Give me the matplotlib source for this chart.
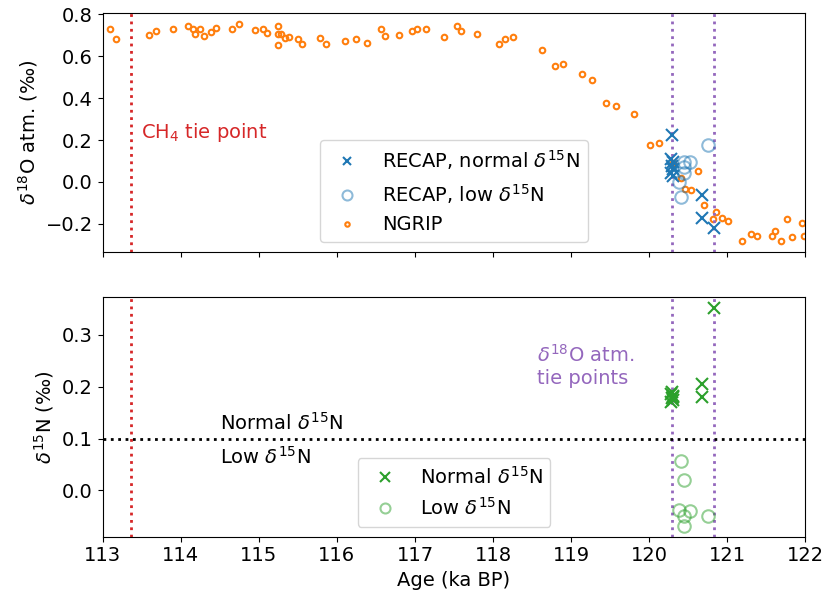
import matplotlib
matplotlib.use('Agg')
import matplotlib.pyplot as plt

# NGRIP d18O atm. record
ngrip_age = [113.09, 113.17, 113.59, 113.68, 113.90, 114.10, 114.16, 114.19, 114.25, 114.30,
             114.39, 114.45, 114.66, 114.75, 114.95, 115.05, 115.11, 115.24, 115.24, 115.24,
             115.29, 115.34, 115.39, 115.50, 115.56, 115.79, 115.86, 116.10, 116.24, 116.39,
             116.56, 116.62, 116.79, 116.96, 117.03, 117.14, 117.37, 117.54, 117.59, 117.80,
             118.08, 118.15, 118.26, 118.63, 118.79, 118.89, 119.14, 119.27, 119.45, 119.58,
             119.80, 120.01, 120.13, 120.30, 120.41, 120.46, 120.54, 120.62, 120.70, 120.82,
             120.85, 120.93, 121.01, 121.19, 121.30, 121.38, 121.57, 121.61, 121.68, 121.76,
             121.83, 121.95, 121.98]
ngrip_d18o = [0.732, 0.683, 0.700, 0.721, 0.731, 0.743, 0.731, 0.708, 0.729, 0.699,
              0.716, 0.734, 0.732, 0.754, 0.726, 0.729, 0.713, 0.742, 0.705, 0.656,
              0.704, 0.689, 0.694, 0.683, 0.657, 0.689, 0.660, 0.673, 0.683, 0.665,
              0.728, 0.697, 0.700, 0.719, 0.729, 0.729, 0.691, 0.742, 0.721, 0.708,
              0.660, 0.681, 0.692, 0.628, 0.552, 0.564, 0.515, 0.486, 0.379, 0.363,
              0.325, 0.176, 0.187, 0.090, 0.021, -0.032, -0.040, 0.054, -0.112, -0.176,
              -0.144, -0.171, -0.184, -0.281, -0.248, -0.257, -0.256, -0.235, -0.283, -0.179,
              -0.264, -0.195, -0.260]

# RECAP samples with normal d15N
normal_age = [120.29, 120.28, 120.30, 120.29, 120.31, 120.28, 120.30, 120.67, 120.67, 120.83]
normal_d18o = [0.224, 0.110, 0.095, 0.078, 0.062, 0.045, 0.030, -0.064, -0.174, -0.222]
normal_d15n = [0.190, 0.186, 0.182, 0.178, 0.174, 0.170, 0.180, 0.206, 0.181, 0.351]

# RECAP samples with low d15N
low_age = [120.40, 120.45, 120.38, 120.52, 120.45, 120.45, 120.75]
low_d18o = [-0.070, 0.069, 0.001, 0.097, 0.093, 0.042, 0.176]
low_d15n = [0.056, 0.020, -0.037, -0.039, -0.050, -0.068, -0.050]

ch4_tie = 113.37
d18o_ties = [120.29, 120.83]
d15n_threshold = 0.1

plt.rcParams['font.size'] = 14

fig, (ax1, ax2) = plt.subplots(2, 1, figsize=(8.27, 6.03), dpi=100, sharex=True)
fig.subplots_adjust(left=0.124, right=0.974, top=0.979, bottom=0.110, hspace=0.19)

# top panel: d18O atm.
ax1.plot(normal_age, normal_d18o, 'x', color='tab:blue', ms=8, mew=1.5,
         label=r'RECAP, normal $\delta^{15}$N', zorder=4)
ax1.plot(low_age, low_d18o, 'o', mfc='none', mec='tab:blue', alpha=0.5, ms=9, mew=1.5,
         label=r'RECAP, low $\delta^{15}$N', zorder=3)
ax1.plot(ngrip_age, ngrip_d18o, 'o', mfc='none', mec='tab:orange', ms=4, mew=1.5,
         label='NGRIP', zorder=2)
ax1.axvline(ch4_tie, color='tab:red', ls=':', lw=2)
for t in d18o_ties:
    ax1.axvline(t, color='tab:purple', ls=':', lw=2)
ax1.text(113.49, 0.235, r'CH$_4$ tie point', color='tab:red', va='center')
ax1.set_ylim(-0.334, 0.808)
ax1.set_ylabel(r'$\delta^{18}$O atm. (‰)')
ax1.legend(loc='lower center', markerscale=0.8)

# bottom panel: d15N
ax2.plot(normal_age, normal_d15n, 'x', color='tab:green', ms=9, mew=1.5,
         label=r'Normal $\delta^{15}$N', zorder=4)
ax2.plot(low_age, low_d15n, 'o', mfc='none', mec='tab:green', alpha=0.5, ms=9, mew=1.5,
         label=r'Low $\delta^{15}$N', zorder=3)
ax2.axvline(ch4_tie, color='tab:red', ls=':', lw=2)
for t in d18o_ties:
    ax2.axvline(t, color='tab:purple', ls=':', lw=2)
ax2.axhline(d15n_threshold, color='black', ls=':', lw=2)
ax2.text(114.5, 0.11, r'Normal $\delta^{15}$N', va='bottom')
ax2.text(114.5, 0.085, r'Low $\delta^{15}$N', va='top')
ax2.text(118.56, 0.24, '$\\delta^{18}$O atm.\ntie points', color='tab:purple', va='center')
ax2.set_ylim(-0.089, 0.372)
ax2.set_xlim(113, 122)
ax2.set_xlabel('Age (ka BP)')
ax2.set_ylabel(r'$\delta^{15}$N (‰)')
ax2.legend(loc='lower center', markerscale=0.8)

fig.savefig('out.png')
